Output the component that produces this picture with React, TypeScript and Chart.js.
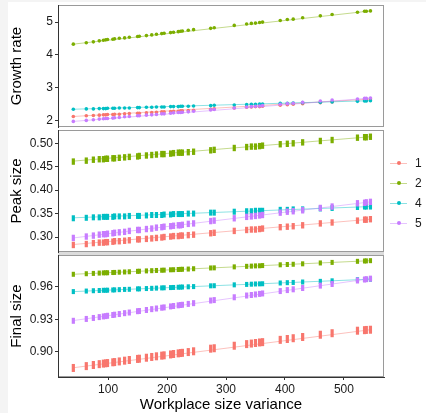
import React, { useEffect, useRef } from "react";
import { Chart, registerables } from "chart.js";

Chart.register(...registerables);

const FONT = "'Liberation Sans', Arial, Helvetica, sans-serif";

const seriesNames = ["1", "2", "4", "5"];
const seriesColors = ["#F8766D", "#7CAE00", "#00BFC4", "#C77CFF"];
const fitColors = [
  "rgba(248,118,109,0.45)",
  "rgba(124,174,0,0.45)",
  "rgba(0,191,196,0.45)",
  "rgba(199,124,255,0.45)",
];

const xTitle = "Workplace size variance";
const xMin = 15;
const xMax = 568;
const xTicks = [100, 200, 300, 400, 500];

const xValues = [
  41, 63, 75, 85, 92, 96, 99, 108, 111, 119, 128,
  136, 150, 153, 165, 174, 182, 191, 195, 206, 211, 219,
  223, 226, 236, 245, 274, 280, 314, 335, 343, 350, 357,
  362, 392, 404, 414, 430, 460, 480, 523, 535, 538, 545,
];
const fitX = [41, 545];

// Growth rate
const growthTicks = [2, 3, 4, 5];
const growth1 = [
  2.13, 2.15, 2.16, 2.17, 2.18, 2.18, 2.19, 2.19, 2.20, 2.20, 2.21,
  2.22, 2.23, 2.23, 2.24, 2.25, 2.26, 2.27, 2.27, 2.28, 2.29, 2.29,
  2.30, 2.30, 2.31, 2.32, 2.35, 2.36, 2.39, 2.41, 2.42, 2.43, 2.43,
  2.44, 2.47, 2.49, 2.50, 2.52, 2.55, 2.57, 2.62, 2.64, 2.64, 2.66,
];
const growth2 = [
  4.33, 4.37, 4.40, 4.43, 4.45, 4.46, 4.47, 4.48, 4.49, 4.51, 4.52,
  4.54, 4.56, 4.57, 4.59, 4.61, 4.63, 4.65, 4.66, 4.68, 4.69, 4.71,
  4.72, 4.73, 4.75, 4.77, 4.81, 4.83, 4.90, 4.94, 4.96, 4.97, 4.99,
  5.00, 5.05, 5.08, 5.09, 5.13, 5.19, 5.23, 5.30, 5.33, 5.33, 5.34,
];
const growth4 = [
  2.35, 2.36, 2.36, 2.37, 2.37, 2.37, 2.38, 2.38, 2.38, 2.39, 2.39,
  2.39, 2.40, 2.40, 2.41, 2.41, 2.42, 2.42, 2.42, 2.43, 2.43, 2.43,
  2.44, 2.44, 2.44, 2.45, 2.46, 2.47, 2.48, 2.49, 2.50, 2.50, 2.51,
  2.51, 2.53, 2.53, 2.54, 2.55, 2.56, 2.57, 2.59, 2.60, 2.60, 2.61,
];
const growth5 = [
  1.98, 2.01, 2.03, 2.05, 2.06, 2.07, 2.07, 2.08, 2.09, 2.10, 2.12,
  2.13, 2.15, 2.15, 2.17, 2.18, 2.19, 2.21, 2.21, 2.23, 2.24, 2.25,
  2.25, 2.26, 2.27, 2.29, 2.33, 2.34, 2.39, 2.42, 2.43, 2.44, 2.45,
  2.46, 2.50, 2.52, 2.53, 2.56, 2.60, 2.63, 2.66, 2.68, 2.68, 2.69,
];
const growthFit = [[2.13, 2.66], [4.33, 5.34], [2.35, 2.61], [1.98, 2.69]];

// Peak size
const peakTicks = [0.3, 0.35, 0.4, 0.45, 0.5];
const peak1 = [
  0.283, 0.285, 0.287, 0.288, 0.288, 0.289, 0.289, 0.290, 0.291, 0.291, 0.292,
  0.293, 0.295, 0.295, 0.296, 0.297, 0.298, 0.299, 0.300, 0.301, 0.302, 0.302,
  0.303, 0.303, 0.304, 0.305, 0.308, 0.309, 0.313, 0.315, 0.316, 0.316, 0.317,
  0.318, 0.321, 0.322, 0.323, 0.325, 0.329, 0.331, 0.335, 0.337, 0.337, 0.338,
];
const peak2 = [
  0.461, 0.463, 0.465, 0.466, 0.466, 0.467, 0.467, 0.468, 0.468, 0.469, 0.470,
  0.471, 0.472, 0.473, 0.474, 0.475, 0.476, 0.477, 0.477, 0.478, 0.479, 0.480,
  0.480, 0.480, 0.481, 0.482, 0.485, 0.486, 0.490, 0.492, 0.493, 0.493, 0.494,
  0.495, 0.498, 0.499, 0.500, 0.502, 0.505, 0.507, 0.512, 0.513, 0.513, 0.514,
];
const peak4 = [
  0.340, 0.341, 0.342, 0.342, 0.343, 0.343, 0.343, 0.343, 0.344, 0.344, 0.344,
  0.345, 0.345, 0.345, 0.346, 0.347, 0.347, 0.347, 0.348, 0.348, 0.349, 0.349,
  0.349, 0.349, 0.350, 0.350, 0.352, 0.352, 0.354, 0.355, 0.355, 0.356, 0.356,
  0.356, 0.358, 0.358, 0.359, 0.359, 0.361, 0.362, 0.364, 0.365, 0.365, 0.365,
];
const peak5 = [
  0.298, 0.301, 0.303, 0.305, 0.306, 0.306, 0.307, 0.308, 0.309, 0.310, 0.311,
  0.313, 0.315, 0.315, 0.317, 0.318, 0.320, 0.321, 0.322, 0.323, 0.324, 0.325,
  0.325, 0.326, 0.328, 0.329, 0.334, 0.335, 0.340, 0.343, 0.344, 0.345, 0.346,
  0.347, 0.352, 0.354, 0.355, 0.357, 0.362, 0.365, 0.372, 0.373, 0.374, 0.375,
];
const peakFit = [[0.284, 0.338], [0.462, 0.514], [0.341, 0.365], [0.298, 0.375]];

// Final size
const finalTicks = [0.9, 0.93, 0.96];
const final1 = [
  0.8853, 0.8870, 0.8880, 0.8888, 0.8893, 0.8896, 0.8898, 0.8905, 0.8907, 0.8913, 0.8920,
  0.8926, 0.8936, 0.8938, 0.8947, 0.8954, 0.8960, 0.8966, 0.8969, 0.8977, 0.8981, 0.8987,
  0.8990, 0.8992, 0.8999, 0.9006, 0.9030, 0.9034, 0.9057, 0.9072, 0.9077, 0.9082, 0.9087,
  0.9090, 0.9111, 0.9119, 0.9126, 0.9137, 0.9158, 0.9172, 0.9195, 0.9200, 0.9202, 0.9204,
];
const final2 = [
  0.9713, 0.9718, 0.9721, 0.9724, 0.9726, 0.9727, 0.9727, 0.9729, 0.9730, 0.9732, 0.9734,
  0.9736, 0.9740, 0.9741, 0.9744, 0.9746, 0.9748, 0.9750, 0.9751, 0.9754, 0.9755, 0.9757,
  0.9758, 0.9759, 0.9761, 0.9764, 0.9771, 0.9772, 0.9781, 0.9786, 0.9788, 0.9790, 0.9791,
  0.9793, 0.9800, 0.9803, 0.9805, 0.9809, 0.9817, 0.9822, 0.9832, 0.9835, 0.9836, 0.9838,
];
const final4 = [
  0.9554, 0.9559, 0.9562, 0.9564, 0.9566, 0.9566, 0.9567, 0.9569, 0.9570, 0.9572, 0.9574,
  0.9575, 0.9579, 0.9579, 0.9582, 0.9584, 0.9586, 0.9588, 0.9589, 0.9591, 0.9592, 0.9594,
  0.9595, 0.9596, 0.9598, 0.9600, 0.9607, 0.9608, 0.9616, 0.9620, 0.9622, 0.9624, 0.9625,
  0.9626, 0.9633, 0.9636, 0.9638, 0.9642, 0.9648, 0.9653, 0.9663, 0.9665, 0.9666, 0.9668,
];
const final5 = [
  0.9286, 0.9303, 0.9312, 0.9320, 0.9326, 0.9329, 0.9332, 0.9339, 0.9342, 0.9348, 0.9356,
  0.9362, 0.9374, 0.9376, 0.9385, 0.9393, 0.9399, 0.9406, 0.9409, 0.9418, 0.9422, 0.9428,
  0.9431, 0.9433, 0.9441, 0.9448, 0.9472, 0.9476, 0.9502, 0.9518, 0.9523, 0.9528, 0.9533,
  0.9537, 0.9559, 0.9568, 0.9575, 0.9587, 0.9609, 0.9624, 0.9656, 0.9665, 0.9668, 0.9673,
];
const finalFit = [[0.8855, 0.9204], [0.9713, 0.9838], [0.9554, 0.9668], [0.9288, 0.9673]];

type PanelSpec = {
  series: number[][];
  fits: number[][];
  min: number;
  max: number;
  ticks: number[];
  decimals: number;
  title: string;
  style: string;
  radii: number[];
  showX: boolean;
  top: number;
  height: number;
  padTop: number;
  padBottom: number;
};

const panels: PanelSpec[] = [
  {
    series: [growth1, growth2, growth4, growth5],
    fits: growthFit,
    min: 1.81,
    max: 5.52,
    ticks: growthTicks,
    decimals: 0,
    title: "Growth rate",
    style: "circle",
    radii: [1.8, 1.8, 1.8, 1.8],
    showX: false,
    top: 0,
    height: 128,
    padTop: 5,
    padBottom: 1,
  },
  {
    series: [peak1, peak2, peak4, peak5],
    fits: peakFit,
    min: 0.268,
    max: 0.5284,
    ticks: peakTicks,
    decimals: 2,
    title: "Peak size",
    style: "line",
    radii: [3.2, 3.2, 3.0, 3.2],
    showX: false,
    top: 128,
    height: 126,
    padTop: 2,
    padBottom: 2,
  },
  {
    series: [final1, final2, final4, final5],
    fits: finalFit,
    min: 0.877,
    max: 0.989,
    ticks: finalTicks,
    decimals: 2,
    title: "Final size",
    style: "line",
    radii: [4, 2.5, 2.5, 3],
    showX: true,
    top: 253,
    height: 160,
    padTop: 2,
    padBottom: 0,
  },
];

const panelBorder = {
  id: "panelBorder",
  beforeDraw(chart: any) {
    const { ctx, chartArea: a } = chart;
    ctx.save();
    ctx.strokeStyle = "#9a9a9a";
    ctx.lineWidth = 1;
    ctx.strokeRect(a.left + 0.5, a.top + 0.5, a.right - a.left - 1, a.bottom - a.top - 1);
    ctx.restore();
  },
};

function buildConfig(p: PanelSpec): any {
  const order = [3, 2, 1, 0];
  const pointSets = order.map((k) => ({
    type: "scatter",
    label: seriesNames[k],
    data: xValues.map((x, i) => ({ x, y: p.series[k][i] })),
    pointStyle: p.style,
    pointRotation: p.style === "line" ? 90 : 0,
    pointRadius: p.radii[k],
    pointHoverRadius: p.radii[k],
    pointBackgroundColor: seriesColors[k],
    pointBorderColor: seriesColors[k],
    pointBorderWidth: p.style === "line" ? 3.2 : 0,
    showLine: false,
  }));
  const lineSets = order.map((k) => ({
    type: "line",
    label: "fit " + seriesNames[k],
    data: fitX.map((x, i) => ({ x, y: p.fits[k][i] })),
    borderColor: fitColors[k],
    borderWidth: 1,
    pointRadius: 0,
    fill: false,
    tension: 0,
  }));
  return {
    type: "scatter",
    data: { datasets: [...pointSets, ...lineSets] },
    options: {
      animation: false,
      responsive: false,
      events: [],
      layout: {
        autoPadding: false,
        padding: { left: 0, right: 42, top: p.padTop, bottom: p.padBottom },
      },
      plugins: { legend: { display: false }, tooltip: { enabled: false }, title: { display: false } },
      scales: {
        x: {
          type: "linear",
          min: xMin,
          max: xMax,
          display: p.showX,
          afterBuildTicks: (s: any) => {
            s.ticks = xTicks.map((v) => ({ value: v }));
          },
          afterFit: (s: any) => {
            s.height = p.showX ? 36 : 0;
            s.paddingLeft = 0;
            s.paddingRight = 0;
            s.paddingTop = 0;
            s.paddingBottom = 0;
          },
          grid: { drawOnChartArea: false, drawTicks: true, tickLength: 3, color: "#333" },
          border: { display: true, color: "#333", width: 1 },
          ticks: {
            color: "#1a1a1a",
            font: { size: 12, family: FONT },
            padding: 2,
            maxRotation: 0,
            autoSkip: false,
            callback: (v: any) => String(v),
          },
          title: {
            display: true,
            text: xTitle,
            color: "#000",
            font: { size: 15, family: FONT },
            padding: { top: 0, bottom: -1 },
          },
        },
        y: {
          type: "linear",
          min: p.min,
          max: p.max,
          afterBuildTicks: (s: any) => {
            s.ticks = p.ticks.map((v) => ({ value: v }));
          },
          afterFit: (s: any) => {
            s.width = 58;
            s.paddingTop = 0;
            s.paddingBottom = 0;
            s.paddingLeft = 0;
            s.paddingRight = 0;
          },
          grid: { drawOnChartArea: false, drawTicks: true, tickLength: 3, color: "#333" },
          border: { display: true, color: "#333", width: 1 },
          ticks: {
            color: "#1a1a1a",
            font: { size: 12, family: FONT },
            padding: 2,
            autoSkip: false,
            callback: (v: any) => Number(v).toFixed(p.decimals),
          },
          title: {
            display: true,
            text: p.title,
            color: "#000",
            font: { size: 15, family: FONT },
            padding: { top: 8, bottom: 0 },
          },
        },
      },
    },
    plugins: [panelBorder],
  };
}

function Panel({ spec }: { spec: PanelSpec }) {
  const ref = useRef<HTMLCanvasElement | null>(null);
  useEffect(() => {
    if (!ref.current) return;
    const chart = new Chart(ref.current, buildConfig(spec));
    return () => chart.destroy();
  }, [spec]);
  return (
    <canvas
      ref={ref}
      width={426}
      height={spec.height}
      style={{ position: "absolute", left: 0, top: spec.top, width: 426, height: spec.height }}
    />
  );
}

const legendY = [163, 183, 203, 223];

export default function App() {
  Chart.defaults.font.family = FONT;
  return (
    <div
      style={{
        position: "fixed",
        left: 0,
        top: 0,
        width: 426,
        height: 413,
        background: "#f4f4f4",
        overflow: "hidden",
        fontFamily: FONT,
      }}
    >
      <div style={{ position: "absolute", left: 8, top: 2, right: 0, bottom: 0, background: "#fff" }} />
      <div style={{ position: "absolute", left: 58, top: 252, width: 326, height: 3, background: "#dcdcdc" }} />
      {panels.map((p, i) => (
        <Panel key={i} spec={p} />
      ))}
      {seriesNames.map((name, k) => (
        <React.Fragment key={name}>
          <div
            style={{
              position: "absolute",
              left: 390,
              top: legendY[k] - 0.5,
              width: 17,
              height: 1.2,
              background: fitColors[k],
            }}
          />
          <div
            style={{
              position: "absolute",
              left: 396.5,
              top: legendY[k] - 2,
              width: 4,
              height: 4,
              borderRadius: "50%",
              background: seriesColors[k],
            }}
          />
          <div
            style={{
              position: "absolute",
              left: 415,
              top: legendY[k] - 8,
              fontSize: 12,
              lineHeight: "16px",
              color: "#1a1a1a",
            }}
          >
            {name}
          </div>
        </React.Fragment>
      ))}
    </div>
  );
}
